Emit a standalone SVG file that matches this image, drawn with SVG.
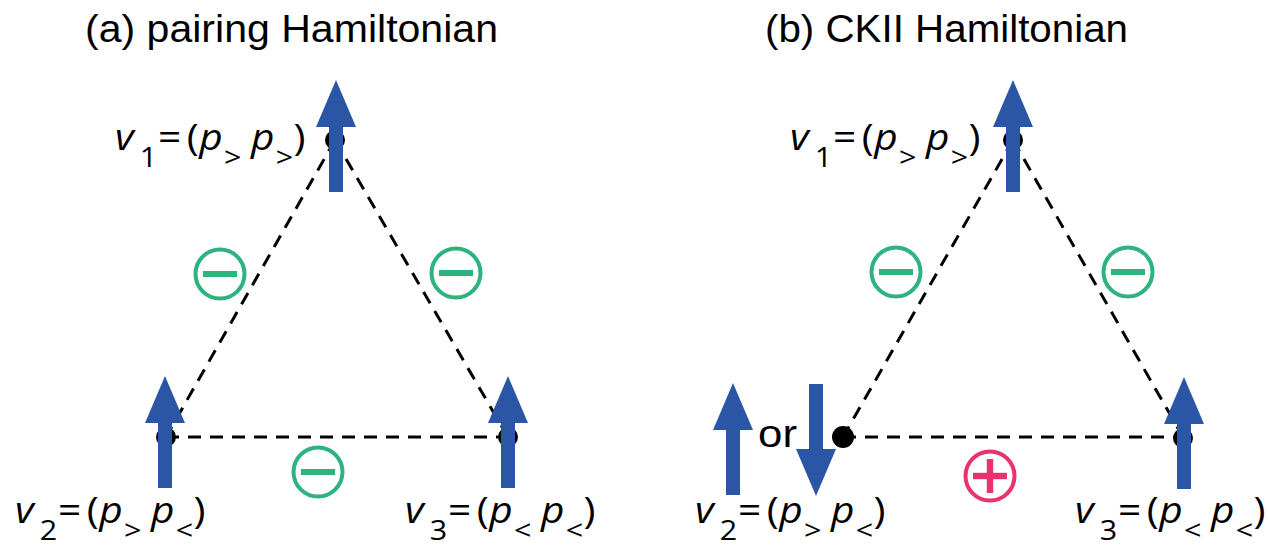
<svg xmlns="http://www.w3.org/2000/svg" xmlns:xlink="http://www.w3.org/1999/xlink" width="1268" height="548" viewBox="0 0 1268 548">
<style>
.title{font-family:"Liberation Sans",Arial,sans-serif;font-size:38px;fill:#000}
.lbl{font-family:"Open Sans","Liberation Sans",sans-serif;font-size:36px;fill:#000}
.i{font-style:italic}
.s{font-size:27px}
.edge{stroke:#000;stroke-width:3;stroke-dasharray:13 9;fill:none}
.dot{fill:#000}
.arrow{fill:#2b56a6}
.neg{stroke:#2db37d;stroke-width:4;fill:#fff}
.negbar{fill:#2db37d}
.pos{stroke:#e8336e;stroke-width:4;fill:#fff}
.posbar{fill:#e8336e}
</style>
<defs>
<path id="up" d="M0,0 L20,47 L7,47 L7,112 L-7,112 L-7,47 L-20,47 Z"/>
<path id="down" d="M0,0 L20,-47 L7,-47 L7,-112 L-7,-112 L-7,-47 L-20,-47 Z"/>
<g id="minus"><circle cx="0" cy="0" r="24.5" class="neg"/><rect x="-17" y="-3" width="34" height="6" class="negbar"/></g>
<g id="plus"><circle cx="0" cy="0" r="24.5" class="pos"/><rect x="-17" y="-3.2" width="34" height="6.4" class="posbar"/><rect x="-3.2" y="-17" width="6.4" height="34" class="posbar"/></g>
</defs>

<text class="title" x="85" y="42" textLength="413" lengthAdjust="spacingAndGlyphs">(a) pairing Hamiltonian</text>
<text class="title" x="765" y="42" textLength="363" lengthAdjust="spacingAndGlyphs">(b) CKII Hamiltonian</text>

<g id="connectors">
<line class="edge" x1="335" y1="140" x2="166" y2="437"/>
<line class="edge" x1="335" y1="140" x2="508" y2="437"/>
<line class="edge" x1="166" y1="437" x2="508" y2="437"/>
<line class="edge" x1="1013" y1="140" x2="843" y2="437"/>
<line class="edge" x1="1013" y1="140" x2="1183" y2="437"/>
<line class="edge" x1="843" y1="437" x2="1183" y2="437"/>
</g>

<g id="signs">
<use xlink:href="#minus" x="220" y="274"/>
<use xlink:href="#minus" x="456" y="273"/>
<use xlink:href="#minus" x="318" y="472"/>
<use xlink:href="#minus" x="896" y="272"/>
<use xlink:href="#minus" x="1128" y="272"/>
<use xlink:href="#plus" x="990" y="476"/>
</g>

<g id="a-v1">
<circle class="dot" cx="335" cy="140" r="10"/>
<use xlink:href="#up" class="arrow" x="336" y="80"/>
<text class="lbl" transform="translate(115,150) scale(1.13,1)"><tspan class="i" x="0" y="0">v</tspan><tspan class="s" x="22" y="17">1</tspan><tspan x="38" y="0">=</tspan><tspan x="63.5" y="0">(</tspan><tspan class="i" x="74.5" y="0">p</tspan><tspan class="s" x="96.5" y="17">&gt;</tspan><tspan class="i" x="120.4" y="0">p</tspan><tspan class="s" x="142.2" y="17">&gt;</tspan><tspan x="158" y="0">)</tspan></text>
</g>
<g id="a-v2">
<circle class="dot" cx="166" cy="437" r="10"/>
<use xlink:href="#up" class="arrow" x="165" y="376"/>
<text class="lbl" transform="translate(15,523) scale(1.13,1)"><tspan class="i" x="0" y="0">v</tspan><tspan class="s" x="22" y="17">2</tspan><tspan x="38" y="0">=</tspan><tspan x="63.5" y="0">(</tspan><tspan class="i" x="74.5" y="0">p</tspan><tspan class="s" x="96.5" y="17">&gt;</tspan><tspan class="i" x="120.4" y="0">p</tspan><tspan class="s" x="142.2" y="17">&lt;</tspan><tspan x="158" y="0">)</tspan></text>
</g>
<g id="a-v3">
<circle class="dot" cx="508" cy="437" r="10"/>
<use xlink:href="#up" class="arrow" x="508" y="376"/>
<text class="lbl" transform="translate(405,523) scale(1.13,1)"><tspan class="i" x="0" y="0">v</tspan><tspan class="s" x="22" y="17">3</tspan><tspan x="38" y="0">=</tspan><tspan x="63.5" y="0">(</tspan><tspan class="i" x="74.5" y="0">p</tspan><tspan class="s" x="96.5" y="17">&lt;</tspan><tspan class="i" x="120.4" y="0">p</tspan><tspan class="s" x="142.2" y="17">&lt;</tspan><tspan x="158" y="0">)</tspan></text>
</g>

<g id="b-v1">
<circle class="dot" cx="1013" cy="140" r="10"/>
<use xlink:href="#up" class="arrow" x="1013" y="80"/>
<text class="lbl" transform="translate(790,150) scale(1.13,1)"><tspan class="i" x="0" y="0">v</tspan><tspan class="s" x="22" y="17">1</tspan><tspan x="38" y="0">=</tspan><tspan x="63.5" y="0">(</tspan><tspan class="i" x="74.5" y="0">p</tspan><tspan class="s" x="96.5" y="17">&gt;</tspan><tspan class="i" x="120.4" y="0">p</tspan><tspan class="s" x="142.2" y="17">&gt;</tspan><tspan x="158" y="0">)</tspan></text>
</g>
<g id="b-v2">
<circle class="dot" cx="843" cy="437" r="11"/>
<use xlink:href="#up" class="arrow" x="733" y="383"/>
<use xlink:href="#down" class="arrow" x="816" y="496"/>
<text class="title" x="758" y="447" textLength="39" lengthAdjust="spacingAndGlyphs">or</text>
<text class="lbl" transform="translate(695,523) scale(1.13,1)"><tspan class="i" x="0" y="0">v</tspan><tspan class="s" x="22" y="17">2</tspan><tspan x="38" y="0">=</tspan><tspan x="63.5" y="0">(</tspan><tspan class="i" x="74.5" y="0">p</tspan><tspan class="s" x="96.5" y="17">&gt;</tspan><tspan class="i" x="120.4" y="0">p</tspan><tspan class="s" x="142.2" y="17">&lt;</tspan><tspan x="158" y="0">)</tspan></text>
</g>
<g id="b-v3">
<circle class="dot" cx="1183" cy="438" r="10"/>
<use xlink:href="#up" class="arrow" x="1184" y="377"/>
<text class="lbl" transform="translate(1075,523) scale(1.13,1)"><tspan class="i" x="0" y="0">v</tspan><tspan class="s" x="22" y="17">3</tspan><tspan x="38" y="0">=</tspan><tspan x="63.5" y="0">(</tspan><tspan class="i" x="74.5" y="0">p</tspan><tspan class="s" x="96.5" y="17">&lt;</tspan><tspan class="i" x="120.4" y="0">p</tspan><tspan class="s" x="142.2" y="17">&lt;</tspan><tspan x="158" y="0">)</tspan></text>
</g>
</svg>
